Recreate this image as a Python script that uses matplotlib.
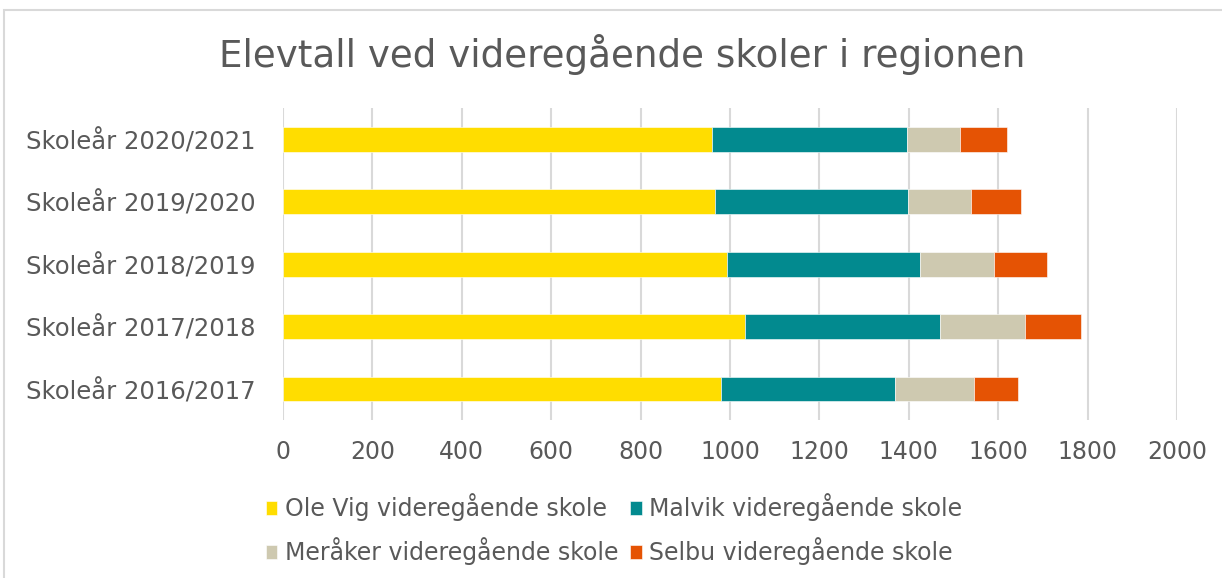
import matplotlib.pyplot as plt
from matplotlib.patches import Rectangle
import numpy as np

years = ["Skoleår 2016/2017", "Skoleår 2017/2018", "Skoleår 2018/2019",
         "Skoleår 2019/2020", "Skoleår 2020/2021"]
schools = ["Ole Vig videregående skole", "Malvik videregående skole",
           "Meråker videregående skole", "Selbu videregående skole"]
ole_vig = [980, 1034, 994, 966, 960]
malvik = [390, 436, 431, 433, 436]
meraker = [175, 190, 166, 140, 118]
selbu = [100, 125, 118, 112, 106]
colors = ["#FFDD00", "#028A8F", "#CEC9B0", "#E55304"]
xticks = [0, 200, 400, 600, 800, 1000, 1200, 1400, 1600, 1800, 2000]

text_col = "#595959"
plt.rcParams['font.family'] = ['DejaVu Sans']

fig = plt.figure(figsize=(12.22, 5.78), dpi=100)
ax = fig.add_axes([0.2316, 0.273, 0.7315, 0.54])

# thin frame round the chart like the Excel chart area
fig.patches.append(Rectangle((4 / 1222, -0.01), 1.1, 1 - 10 / 578 + 0.01,
                             transform=fig.transFigure, fill=False,
                             edgecolor="#d9d9d9", linewidth=1.5))

y = np.arange(len(years))
left = np.zeros(len(years))
handles = []
for vals, name, c in zip([ole_vig, malvik, meraker, selbu], schools, colors):
    h = ax.barh(y, vals, left=left, height=0.4, color=c, label=name,
                edgecolor="white", linewidth=0.4)
    handles.append(h)
    left += np.array(vals)

ax.set_xlim(0, 2000)
ax.set_ylim(-0.5, len(years) - 0.5)
ax.set_xticks(xticks)
ax.set_yticks(y)
ax.set_yticklabels(years)
ax.tick_params(axis='both', length=0, colors=text_col)
ax.tick_params(axis='x', pad=14, labelsize=17)
ax.tick_params(axis='y', pad=20, labelsize=17.5)
ax.grid(axis='x', color="#d9d9d9", linewidth=1.5)
ax.set_axisbelow(True)
for s in ax.spines.values():
    s.set_visible(False)

fig.text(0.509, 0.905, "Elevtall ved videregående skoler i regionen",
         ha='center', va='center', fontsize=26.8, color=text_col)

# legend fills column-wise, so reorder to get Ole Vig/Malvik on the first row
order = [0, 2, 1, 3]
leg = fig.legend([handles[i] for i in order], [schools[i] for i in order],
                 loc='upper left', bbox_to_anchor=(0.2, 0.183), ncol=2,
                 frameon=False, fontsize=17, handlelength=0.5,
                 handleheight=0.5, handletextpad=0.3, columnspacing=0.5,
                 labelspacing=0.68)
for t in leg.get_texts():
    t.set_color(text_col)

fig.savefig("out.png", dpi=100)
